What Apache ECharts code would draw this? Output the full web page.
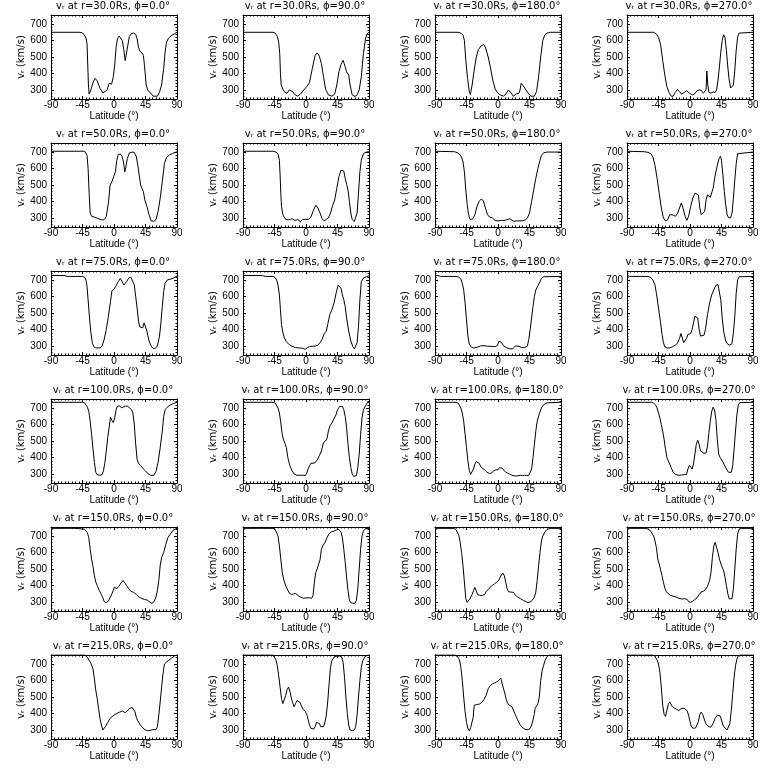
<!DOCTYPE html>
<html><head><meta charset="utf-8">
<script src="https://cdn.jsdelivr.net/npm/echarts@6/dist/echarts.min.js"></script>
<style>html,body{margin:0;padding:0;background:#fff}#c{width:768px;height:768px}</style>
</head><body><div id="c"></div>
<script>
// Categories
const radii = [30, 50, 75, 100, 150, 215];
const phis = [0, 90, 180, 270];
// Tick labels
const xTicks = [-90, -45, 0, 45, 90];
const yTicks = [300, 400, 500, 600, 700];

// Series values: [latitude (deg), v_r (km/s)]
const r30phi0 = [[-90,650],[-50,650],[-46,648],[-43,638],[-40,615],[-38.5,580],[-37.5,450],[-36.5,330],[-35.5,275],[-33,300],[-30,345],[-27,370],[-24,355],[-20,310],[-16,282],[-14,280],[-10,298],[-7,340],[-5,352],[-3.5,335],[-1,380],[1,450],[3,560],[5,612],[7.5,627],[10,618],[12,598],[14,545],[16,478],[17.5,490],[19.5,565],[22,625],[25,642],[28,645],[31,638],[33,610],[35,560],[37,535],[40,525],[42,510],[43.5,450],[46,330],[48,300],[52,282],[56,262],[62,262],[65,285],[68,330],[71,430],[73,530],[75,590],[78,615],[82,630],[86,640],[90,650]];
const r30phi90 = [[-90,650],[-47,650],[-44,645],[-41,625],[-39,590],[-37.5,520],[-36.5,400],[-35.5,330],[-33,305],[-30,285],[-27,280],[-24,300],[-22,308],[-19,290],[-16,272],[-12,262],[-8,275],[-3,300],[1,320],[5,345],[9,430],[13,510],[16,525],[19,505],[22,460],[25,380],[28,305],[32,270],[37,262],[41,275],[44,330],[47,410],[50,455],[53,480],[56,440],[58,410],[61,390],[63,330],[66,270],[70,260],[73,270],[76,300],[79,380],[82,520],[85,610],[87,640],[90,650]];
const r30phi180 = [[-90,650],[-57,650],[-53,645],[-50,632],[-48,600],[-46,480],[-43.5,370],[-41,290],[-39.5,272],[-37,330],[-34,420],[-31,500],[-28,545],[-24,568],[-20.5,575],[-18,560],[-14,500],[-11,440],[-7.5,360],[-4,305],[0,280],[4,268],[8,262],[11,275],[15,300],[16.5,312],[19,280],[22,262],[26,275],[30,280],[31.5,300],[33,340],[36,325],[40,300],[44,275],[47,262],[52,262],[55,290],[58,380],[61,500],[64,600],[67,635],[70,645],[75,650],[90,650]];
const r30phi270 = [[-90,650],[-52,650],[-48,640],[-45,620],[-42,575],[-39,480],[-36,390],[-33,320],[-30,285],[-27,262],[-24,262],[-21,285],[-18,302],[-15,290],[-12,275],[-8,285],[-5,295],[-2,285],[1,275],[4,270],[7,278],[10,295],[13,300],[16,298],[19,280],[21.5,272],[23,300],[24,415],[25.5,330],[27,285],[30,280],[33,288],[36,285],[38,300],[40,360],[42,440],[44,530],[46,600],[48,635],[50,620],[52,540],[54,440],[56,360],[58,312],[60,302],[62,330],[64,420],[66,540],[68,620],[70,645],[72,650],[90,650]];

const r50phi0 = [[-90,705],[-42,705],[-40,700],[-38.5,680],[-37,600],[-35.5,450],[-34,330],[-32,310],[-28,305],[-22,295],[-17,288],[-14,290],[-11,310],[-8,390],[-5.5,500],[-3,520],[-0.5,550],[2,580],[4,650],[6,685],[9,688],[11.5,675],[13.5,640],[15.5,580],[17,610],[19,660],[22,695],[26,700],[29,698],[32,670],[34,620],[36,560],[38,500],[40.5,500],[42,460],[44,410],[47,370],[50,320],[53,283],[57,280],[60,290],[63,340],[66,420],[69,520],[72,630],[75,668],[79,682],[84,692],[90,702]];
const r50phi90 = [[-90,705],[-47,705],[-43,700],[-40,690],[-38,650],[-37,560],[-36,450],[-35,370],[-33,320],[-30,295],[-26,288],[-22,292],[-19,295],[-16,285],[-12,290],[-8,278],[-5,290],[0,292],[4,292],[7,305],[10,340],[14,378],[17,360],[20,330],[23,295],[26,282],[29,292],[32,300],[35,330],[38,375],[41,410],[44,480],[47,550],[50,590],[52,600],[54,585],[56,540],[58,505],[60,470],[62,400],[64,330],[66,290],[69,278],[71,285],[73,330],[75,450],[77,580],[79,650],[82,690],[86,700],[90,702]];
const r50phi180 = [[-90,705],[-62,702],[-58,695],[-55,688],[-52,670],[-50,640],[-48,580],[-46,470],[-44,380],[-42,320],[-40,290],[-38,282],[-36,295],[-33,320],[-30,370],[-27,400],[-24,415],[-21,405],[-18,360],[-15,320],[-12,305],[-8,300],[-4,285],[0,282],[5,285],[10,285],[13,290],[15,300],[17,295],[19,285],[22,280],[26,282],[30,282],[35,283],[39,288],[42,300],[45,330],[48,400],[51,470],[54,540],[57,600],[60,650],[62,680],[65,695],[70,700],[90,700]];
const r50phi270 = [[-90,705],[-65,702],[-60,698],[-56,690],[-53,670],[-50,620],[-47,540],[-44,450],[-41,360],[-38,300],[-35,282],[-32,288],[-29,320],[-27,332],[-24,318],[-21,310],[-18,325],[-15,360],[-12.5,390],[-10,360],[-7,310],[-4.5,285],[-2,310],[1,370],[4,420],[7,450],[9.5,462],[12,440],[14,360],[16,320],[18.5,315],[21,340],[23,410],[25,440],[27,445],[29,425],[31,430],[33,480],[36,560],[39,620],[41.5,660],[43.5,675],[45,650],[47,560],[49,460],[51,380],[53,320],[55,302],[58,300],[60,330],[62,420],[64,530],[66,630],[68,690],[70,700],[90,700]];

const r75phi0 = [[-90,728],[-70,727],[-67,722],[-45,722],[-42,718],[-40,700],[-38.5,660],[-37,580],[-35,470],[-33,380],[-31,320],[-29,295],[-26,288],[-20,288],[-17,300],[-14,340],[-11,400],[-8,480],[-5,570],[-3,635],[0,645],[3,665],[6,690],[9,710],[11.5,700],[14,670],[16,665],[18,690],[21,712],[24,718],[26.5,712],[29,670],[31,600],[33,530],[35,450],[37,415],[39,420],[41,410],[43,440],[45,430],[47,390],[50,330],[53,300],[56,285],[59,285],[62,300],[65,360],[67,440],[69,540],[71,630],[73,680],[76,700],[80,705],[85,712],[90,725]];
const r75phi90 = [[-90,728],[-62,727],[-58,722],[-47,722],[-44,715],[-42,700],[-40,670],[-38,610],[-36.5,520],[-35,430],[-33,380],[-31,350],[-28,325],[-24,308],[-20,298],[-15,290],[-10,288],[-5,286],[-1,280],[2,290],[5,295],[9,298],[14,300],[17,305],[20,320],[23,340],[26,375],[29,390],[31,430],[34,490],[37,520],[40,560],[43,620],[46,670],[48,672],[50,650],[52,610],[54,580],[56,540],[58,470],[61,390],[64,330],[67,295],[69,282],[71,290],[73,320],[75,420],[77,580],[79,690],[82,712],[86,720],[90,725]];
const r75phi180 = [[-90,725],[-86,728],[-82,722],[-60,722],[-56,718],[-53,705],[-51,680],[-49,640],[-47,560],[-45,460],[-43,360],[-41,310],[-38,292],[-35,288],[-30,292],[-25,300],[-20,302],[-15,298],[-10,298],[-5,295],[-1,302],[1.5,330],[3,340],[5,320],[8,300],[12,290],[17,282],[21,282],[25,300],[27,305],[30,298],[34,290],[38,290],[42,300],[44,340],[46,400],[48,470],[50,540],[52,600],[54,640],[57,665],[60,690],[62,710],[65,720],[90,722]];
const r75phi270 = [[-90,728],[-86,722],[-60,722],[-56,715],[-53,700],[-50,670],[-48,620],[-46,560],[-44,500],[-42,440],[-40,370],[-38,320],[-36,295],[-33,288],[-29,288],[-25,295],[-21,305],[-18,315],[-15,345],[-13,375],[-11,372],[-9,320],[-7,315],[-5,345],[-3,370],[-1,360],[1,375],[3,400],[5,440],[7,480],[9,488],[11,470],[13,400],[15,360],[17,350],[20,365],[22,400],[25,490],[28,560],[31,610],[34,640],[37,668],[40,672],[42,660],[44,580],[46,470],[48,390],[51,330],[54,310],[57,305],[60,315],[62,380],[64,480],[66,620],[68,700],[70,720],[90,722]];

const r100phi0 = [[-90,735],[-45,735],[-42,732],[-40,725],[-38,705],[-36,680],[-34,620],[-32,540],[-30,450],[-28,370],[-26,310],[-24,295],[-20,292],[-17,296],[-15,320],[-13,370],[-11,440],[-9,520],[-7,580],[-5,645],[-3,625],[-1,612],[1,640],[3,690],[5,712],[8,712],[11,702],[13,712],[16,712],[19,712],[22,702],[25,690],[27,670],[29,600],[31,480],[33,390],[35,365],[38,350],[41,335],[45,318],[49,300],[52,292],[54,288],[57,292],[60,315],[63,370],[66,460],[69,560],[71,650],[73,690],[76,705],[80,718],[85,728],[90,735]];
const r100phi90 = [[-90,735],[-47,735],[-44,730],[-42,720],[-40,700],[-38,670],[-36,610],[-34,540],[-32,505],[-30,485],[-28,460],[-26,400],[-23,350],[-20,320],[-17,300],[-13,292],[-8,292],[-4,292],[-1,290],[1,305],[3,330],[5,350],[7,365],[10,365],[13,368],[16,385],[19,410],[22,440],[25,490],[28,500],[30,515],[32,560],[34,590],[37,610],[40,635],[43,660],[45,690],[48,710],[50,715],[52,710],[54,690],[56,650],[58,580],[60,480],[62,400],[64,340],[66,300],[68,285],[70,285],[72,290],[74,340],[76,420],[78,540],[80,640],[82,690],[84,700],[86,720],[88,735],[90,735]];
const r100phi180 = [[-90,735],[-60,735],[-57,730],[-55,720],[-53,700],[-51,670],[-49,620],[-47,540],[-45,460],[-43,380],[-41,320],[-39,298],[-37,300],[-35,330],[-33,360],[-31,375],[-29,378],[-27,365],[-24,340],[-20,328],[-16,312],[-12,302],[-9,306],[-6,320],[-3,325],[0,325],[2,338],[4,345],[6,335],[9,318],[13,306],[17,298],[20,292],[24,288],[28,288],[32,292],[35,290],[38,292],[41,290],[44,292],[46,300],[48,330],[50,400],[52,480],[54,560],[56,620],[59,665],[62,700],[65,720],[70,732],[90,735]];
const r100phi270 = [[-90,735],[-55,735],[-52,730],[-49,718],[-47,700],[-45,670],[-43,640],[-41,600],[-39,560],[-37,510],[-35,450],[-33,400],[-31,380],[-29,360],[-27,340],[-24,310],[-21,298],[-17,292],[-12,294],[-8,296],[-5,296],[-3,330],[-1,352],[1,340],[3,330],[5,360],[7,420],[9,480],[11,505],[13,480],[15,440],[17,428],[20,425],[23,428],[25,470],[27,550],[29,620],[31,680],[33,705],[35,690],[37,630],[39,510],[41,420],[43,400],[46,380],[49,355],[52,330],[55,310],[57,305],[59,310],[61,350],[63,450],[65,560],[67,660],[69,720],[71,733],[90,735]];

const r150phi0 = [[-90,747],[-56,747],[-54,742],[-42,742],[-40,735],[-38,720],[-36,690],[-34,620],[-32,560],[-30,515],[-28,460],[-26,420],[-24,400],[-21,370],[-18,345],[-16,325],[-14,302],[-11,296],[-8,305],[-5,330],[-3,350],[-1,370],[0.5,390],[2,378],[4,380],[7,395],[10,415],[13,430],[15,425],[18,400],[21,380],[24,365],[28,358],[32,345],[36,330],[40,320],[44,315],[48,310],[51,300],[54,292],[57,300],[60,330],[62,370],[64,430],[66,520],[68,570],[71,600],[74,650],[77,690],[80,710],[84,732],[88,745],[90,747]];
const r150phi90 = [[-90,747],[-47,747],[-44,740],[-42,728],[-40,700],[-38,640],[-36,560],[-34,480],[-32,440],[-30,410],[-27,380],[-24,355],[-21,345],[-18,348],[-15,352],[-13,345],[-10,335],[-7,328],[-3,322],[0,325],[2,330],[5,325],[8,322],[10,340],[12,420],[14,480],[16,500],[18,530],[20,555],[22,620],[24,640],[27,660],[30,690],[33,715],[36,725],[40,730],[44,738],[47,740],[50,725],[52,690],[54,620],[56,540],[58,450],[60,370],[62,310],[64,295],[67,292],[70,292],[72,310],[74,380],[76,500],[78,620],[80,700],[82,730],[85,745],[90,747]];
const r150phi180 = [[-90,747],[-63,747],[-60,740],[-58,728],[-56,705],[-54,660],[-52,600],[-50,520],[-48,420],[-46,320],[-44,298],[-42,305],[-40,320],[-37,345],[-35,368],[-33,388],[-31,365],[-29,345],[-26,340],[-22,340],[-19,345],[-17,362],[-13,380],[-9,398],[-5,410],[-2,420],[1,430],[4,458],[7,475],[9,460],[11,420],[13,380],[15,362],[18,360],[22,358],[25,340],[28,330],[32,320],[36,310],[40,302],[43,295],[46,300],[49,310],[52,330],[54,360],[56,430],[58,520],[60,600],[62,670],[64,700],[67,725],[70,740],[75,747],[90,747]];
const r150phi270 = [[-90,747],[-63,747],[-60,742],[-57,735],[-55,725],[-52,700],[-50,670],[-48,630],[-46,560],[-44,530],[-42,495],[-40,460],[-38,420],[-36,385],[-34,362],[-31,350],[-28,340],[-24,335],[-20,330],[-16,322],[-12,318],[-8,320],[-6,325],[-4,315],[-2,302],[1,298],[4,305],[7,315],[10,325],[13,345],[16,360],[19,365],[22,375],[25,395],[28,430],[30,480],[32,570],[34,640],[36,662],[38,650],[40,600],[42,560],[45,520],[48,490],[50,450],[52,400],[54,350],[56,318],[58,310],[60,320],[62,380],[64,500],[66,620],[68,710],[70,740],[73,747],[90,747]];

const r215phi0 = [[-90,756],[-42,756],[-40,750],[-38,740],[-36,728],[-33,705],[-30,670],[-28,610],[-26,540],[-24,490],[-22,430],[-20,370],[-18,330],[-16,300],[-14,310],[-12,322],[-9,345],[-6,368],[-3,380],[0,390],[4,400],[8,408],[12,415],[14,420],[16,405],[18,408],[20,420],[23,432],[26,436],[28,430],[30,410],[32,375],[34,355],[37,335],[40,318],[44,302],[48,295],[52,298],[56,302],[60,302],[62,320],[64,390],[66,470],[68,560],[70,640],[72,700],[75,712],[78,722],[82,735],[86,748],[90,756]];
const r215phi90 = [[-90,756],[-47,756],[-45,745],[-43,725],[-41,690],[-39,630],[-37,560],[-35,490],[-33,460],[-31,470],[-29,510],[-27,545],[-25,560],[-23,535],[-21,495],[-19,465],[-17,440],[-15,460],[-13,478],[-11,480],[-9,470],[-7,450],[-4,425],[-1,412],[1,395],[3,365],[5,330],[7,310],[9,300],[11,305],[13,320],[15,345],[17,350],[19,340],[21,320],[23,308],[25,320],[27,345],[29,390],[31,470],[33,580],[35,680],[37,720],[40,742],[44,748],[48,748],[51,742],[53,710],[55,620],[57,500],[59,400],[61,330],[63,300],[66,295],[69,300],[71,320],[73,390],[75,500],[77,600],[79,680],[81,720],[84,745],[87,752],[90,756]];
const r215phi180 = [[-90,756],[-62,756],[-59,752],[-57,745],[-55,725],[-53,680],[-51,600],[-49,500],[-47,410],[-45,345],[-43,310],[-41,295],[-39,315],[-37,350],[-35.5,375],[-34,450],[-32,462],[-29,455],[-26,458],[-23,468],[-20,485],[-17,510],[-14,550],[-11,570],[-8,578],[-5,585],[-2,592],[1,600],[4,615],[6,580],[8,548],[10,518],[12,480],[14,460],[17,448],[20,440],[22,435],[24,400],[26,380],[28,362],[31,335],[34,318],[37,308],[40,302],[43,302],[46,310],[48,330],[50,360],[52,400],[53,430],[55,445],[57,460],[59,500],[61,600],[63,660],[65,690],[67,720],[70,745],[73,755],[90,756]];
const r215phi270 = [[-90,756],[-54,756],[-51,752],[-49,745],[-47,725],[-45,700],[-43,650],[-41,560],[-39,450],[-37,395],[-35,382],[-33,420],[-31,455],[-29,470],[-27,458],[-25,440],[-22,432],[-19,425],[-16,418],[-13,428],[-10,432],[-7,428],[-4,415],[-2,390],[0,350],[2,318],[5,310],[8,312],[10,315],[12,350],[14,395],[16,408],[18,395],[20,370],[22,345],[24,330],[27,318],[30,318],[33,340],[36,370],[39,390],[41,398],[43,385],[45,360],[47,330],[50,310],[53,300],[55,310],[57,340],[59,420],[61,520],[63,620],[65,690],[67,730],[69,750],[72,756],[90,756]];

const panelData = [
  [r30phi0, r30phi90, r30phi180, r30phi270],
  [r50phi0, r50phi90, r50phi180, r50phi270],
  [r75phi0, r75phi90, r75phi180, r75phi270],
  [r100phi0, r100phi90, r100phi180, r100phi270],
  [r150phi0, r150phi90, r150phi180, r150phi270],
  [r215phi0, r215phi90, r215phi180, r215phi270]
];

// Layout
const CELL_W = 192, CELL_H = 128;
const G_LEFT = 51, G_TOP = 15, G_W = 126, G_H = 84;
const Y_MIN = 245, Y_MAX = 755;
const labelFont = 'Liberation Sans';

const grid = [], xAxis = [], yAxis = [], series = [], graphic = [];
const xTop = [], yRight = [];
const black = '#000';

radii.forEach((r, i) => {
  phis.forEach((p, j) => {
    const idx = i * 4 + j;
    const left = G_LEFT + CELL_W * j, top = G_TOP + CELL_H * i;
    grid.push({ left, top, width: G_W, height: G_H, show: false, containLabel: false });
    const common = {
      gridIndex: idx, type: 'value', splitLine: { show: false },
      axisLine: { show: true, onZero: false, lineStyle: { color: black, width: 1 } },
      axisTick: { show: true, inside: true, length: 3, lineStyle: { color: black, width: 1 } }
    };
    xAxis.push(Object.assign({}, common, {
      min: -90, max: 90, interval: 45, position: 'bottom',
      minorTick: { show: true, splitNumber: 9, length: 1.5, lineStyle: { color: black, width: 1 } },
      axisLabel: { show: true, margin: 1, fontSize: 10, color: black, fontFamily: labelFont, customValues: xTicks },
      name: 'Latitude (°)', nameLocation: 'middle', nameGap: 10,
      nameTextStyle: { fontSize: 10, color: black, fontFamily: labelFont }
    }));
    xTop.push(Object.assign({}, common, {
      min: -90, max: 90, interval: 45, position: 'top',
      minorTick: { show: true, splitNumber: 9, length: 1.5, lineStyle: { color: black, width: 1 } },
      axisLabel: { show: false }
    }));
    yAxis.push(Object.assign({}, common, {
      min: Y_MIN, max: Y_MAX, splitNumber: 5, position: 'left',
      axisTick: { show: true, inside: true, length: 3, customValues: yTicks, lineStyle: { color: black, width: 1 } },
      minorTick: { show: true, splitNumber: 5, length: 1.5, lineStyle: { color: black, width: 1 } },
      axisLabel: { show: true, margin: 4, fontSize: 10, color: black, fontFamily: labelFont, customValues: yTicks },
      name: 'vᵣ (km/s)', nameLocation: 'middle', nameGap: 23,
      nameTextStyle: { fontSize: 10, color: black, fontFamily: 'DejaVu Sans' }
    }));
    yRight.push(Object.assign({}, common, {
      min: Y_MIN, max: Y_MAX, splitNumber: 5, position: 'right',
      axisTick: { show: true, inside: true, length: 3, customValues: yTicks, lineStyle: { color: black, width: 1 } },
      minorTick: { show: true, splitNumber: 5, length: 1.5, lineStyle: { color: black, width: 1 } },
      axisLabel: { show: false }
    }));
    series.push({
      type: 'line', xAxisIndex: idx, yAxisIndex: idx,
      data: panelData[i][j], showSymbol: false, symbol: 'none',
      lineStyle: { color: black, width: 1 }, clip: true, silent: true
    });
    graphic.push({
      type: 'text', x: left + G_W / 2 - 1, y: top - 9,
      style: {
        text: 'vᵣ at r=' + r.toFixed(1) + 'Rs, ϕ=' + p.toFixed(1) + '°',
        fill: black, font: '10px "DejaVu Sans"', textAlign: 'center', textVerticalAlign: 'middle'
      }
    });
  });
});

const chart = echarts.init(document.getElementById('c'), null, { renderer: 'canvas' });
chart.setOption({
  backgroundColor: '#fff',
  animation: false,
  grid,
  xAxis: xAxis.concat(xTop),
  yAxis: yAxis.concat(yRight),
  series,
  graphic
});
</script></body></html>
